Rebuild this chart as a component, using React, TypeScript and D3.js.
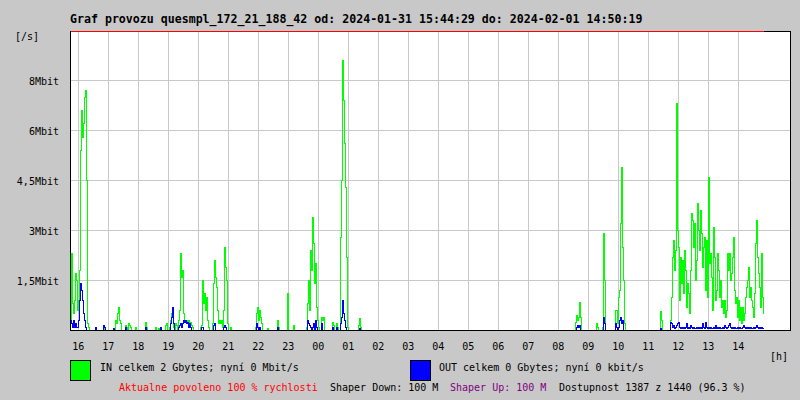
import * as d3 from "d3";

// Traffic graph (MRTG-like): one sample per 2 minutes, one pixel per sample.
const startTime = new Date(2024, 0, 31, 15, 44, 29);
const sampleCount = 694;
const stepMinutes = 2;

// Bursts of non-zero samples: [first sample index, values in Mbit/s]
const inBursts: [number, number[]][] = [
  [0, [0.3, 2.3, 0.8, 0.5, 0.9, 1.7, 1.5, 0.6, 0.9, 1.8, 5.4, 6.6, 5.8, 6.2, 7.0, 7.2, 4.5, 0.2, 0.1]],
  [25, [0.05]],
  [33, [0.1]],
  [43, [0.05, 0, 0.3, 0.2, 0.5, 0.7, 0.3, 0.2]],
  [55, [0.15, 0.1, 0, 0.2, 0.15, 0.1]],
  [65, [0.1]],
  [75, [0.25, 0.1]],
  [85, [0.1]],
  [88, [0.05]],
  [95, [0.15, 0.2, 0, 0, 0.1]],
  [100, [0.3, 0.5, 0.4, 0.1, 0, 0.2, 0.15, 0, 0.3, 0.6, 2.3, 1.6, 1.8, 0.5, 0.3, 0.25, 0.3, 0.2, 0.3, 0.2, 0.25, 0.15, 0.1]],
  [130, [0.1, 0.15, 1.5, 0.8, 1.1, 0.6, 1.0, 0.3, 0.1]],
  [142, [0.2, 1.4, 2.1, 1.6, 1.3, 0.6, 0.2, 0.3, 0.2, 0.3, 0.1, 0.6, 2.5, 1.9, 1.5, 0.2]],
  [160, [0.1]],
  [185, [0.1, 0.5, 0.7, 0.3, 0.6, 0.4, 0.2]],
  [197, [0.05]],
  [207, [0.3, 0.1]],
  [217, [1.1]],
  [223, [0.15]],
  [236, [0.1, 0.8, 1.5, 0.6, 2.4, 1.8, 3.4, 2.6, 1.4, 2.0, 0.7, 0.3, 0.1]],
  [251, [0.4, 0.3, 0.4]],
  [262, [0.25, 0.15, 0, 0, 0.2, 0.1, 0, 0, 2.8, 4.5, 8.1, 6.9, 5.6, 4.3, 2.2, 0.1]],
  [288, [0.15, 0.35, 0.1]],
  [505, [0.25, 0.45, 0.3, 0.4, 0.85, 0.4]],
  [526, [0.2, 0.1]],
  [532, [0.1, 2.9, 1.5]],
  [545, [0.6, 0.6, 0.2, 1.0, 1.2, 3.2, 4.9, 2.5, 1.5, 0.2]],
  [590, [0.57, 0.3]],
  [600, [
    0.3, 1.0, 2.2, 2.7, 1.8, 2.4, 6.8, 3.0, 2.5, 0.9,
    2.2, 1.4, 2.1, 1.1, 2.4, 1.8, 0.7, 1.4, 1.1, 0.5,
    1.8, 3.5, 3.3, 2.5, 3.2, 1.5, 2.1, 3.8, 3.0, 2.4,
    3.6, 2.9, 1.9, 2.5, 2.8, 1.2, 2.7, 1.0, 4.6, 2.0,
    2.3, 1.6, 0.6, 3.1, 2.2, 0.9, 1.2, 2.3, 1.8, 1.0,
    1.5, 0.7, 0.9, 0.5, 0.9, 0.4, 0.6, 2.3, 1.8, 2.3,
    1.5, 1.7, 2.2, 2.8, 1.2, 0.8, 1.0, 0.4, 0.9, 0.3,
    0.7, 0.2, 0.7, 0.3, 0.5, 1.0, 1.3, 1.5, 1.9, 1.0,
    1.3, 0.9, 0.7, 0.4, 1.1, 2.6, 3.3, 2.2, 1.7, 1.3,
    0.7, 2.3, 1.0, 0.5,
  ]],
];

const outBursts: [number, number[]][] = [
  [0, [0.3, 0.2, 0.1, 0.3, 0.1, 0.2, 0.1, 0.1, 0.3, 0.9, 1.4, 1.2, 0.9, 0.5, 0.3, 0.1]],
  [25, [0.1]],
  [33, [0.15, 0.1]],
  [43, [0.05]],
  [55, [0.1]],
  [75, [0.1]],
  [90, [0.1]],
  [100, [0.2, 0.4, 0.7, 0.2, 0, 0, 0, 0, 0.1, 0.15, 0.2, 0.1, 0.2, 0.3, 0.25, 0.3, 0.2, 0.25, 0.1, 0.2, 0.1]],
  [131, [0.1, 0.1]],
  [143, [0.15, 0.2]],
  [153, [0.1, 0.15, 0.1]],
  [186, [0.2, 0.1, 0, 0.1]],
  [207, [0.1]],
  [237, [0.3, 0.2, 0.15, 0.1, 0, 0.1, 0.2, 0, 0.3, 0.1]],
  [251, [0.2]],
  [262, [0.1, 0, 0, 0, 0.1, 0, 0, 0, 0.2, 0.4, 0.9, 0.5, 0.3, 0.1]],
  [289, [0.05]],
  [506, [0.1, 0.15, 0.1, 0.15]],
  [533, [0.4, 0.2]],
  [545, [0.2, 0.1, 0, 0.1, 0.3, 0.4, 0.2, 0.3]],
  [590, [0.05]],
  [600, [
    0.25, 0.2, 0.1, 0.15, 0.05, 0.1, 0.15, 0.2, 0.25, 0.1,
    0.05, 0.1, 0.05, 0.1, 0.05, 0.1, 0.2, 0.05, 0.1, 0.05,
    0.15, 0.1, 0.05, 0.1, 0.05, 0.05, 0.1, 0.05, 0.1, 0.05,
    0.1, 0.05, 0.2, 0.1, 0.05, 0.25, 0.1, 0.05, 0.1, 0.05,
    0.1, 0.05, 0.05, 0.1, 0.05, 0.15, 0.05, 0.1, 0.05, 0.1,
    0.05, 0.05, 0.1, 0.05, 0.15, 0.1, 0.05, 0.1, 0.15, 0.2,
    0.1, 0.05, 0.1, 0.05, 0.1, 0.05, 0.05, 0.1, 0.05, 0.1,
    0.05, 0.05, 0.1, 0.15, 0.1, 0.05, 0.1, 0.05, 0.1, 0.05,
    0.1, 0.05, 0.05, 0.1, 0.05, 0.1, 0.15, 0.1, 0.05, 0.1,
    0.05, 0.1, 0.05, 0.1,
  ]],
];

const yTicks = [1.5, 3, 4.5, 6, 7.5];
const yTickLabels = ["1,5Mbit", "3Mbit", "4,5Mbit", "6Mbit", "8Mbit"];

const FONT = "'DejaVu Sans Mono', 'Liberation Mono', monospace";
const BG = "#c8c8c8";
const GRID = "#c8c8c8";

function expand(bursts: [number, number[]][]): number[] {
  const out = new Array(sampleCount).fill(0);
  for (const [at, vals] of bursts) {
    vals.forEach((v, k) => {
      if (at + k < sampleCount) out[at + k] = v;
    });
  }
  return out;
}

const inSeries = expand(inBursts);
const outSeries = expand(outBursts);
const times = inSeries.map((_, i) => d3.timeMinute.offset(startTime, i * stepMinutes));
const endTime = times[times.length - 1];

const L = 70;
const R = 790;
const TOP = 31;
const BOTTOM = 330;

const x = d3.scaleTime().domain([startTime, d3.timeHour.offset(startTime, 24)]).range([L, R]);
const y = d3.scaleLinear().domain([0, 9]).range([BOTTOM, BOTTOM - 300]);

const px = (v: number) => Math.round(v) + 0.5;

const line = d3
  .line<number>()
  .x((_, i) => px(x(times[i])))
  .y((v) => px(y(v)))
  .curve(d3.curveStepAfter);

const hours = d3.timeHour.range(startTime, endTime);
const fmtHour = d3.timeFormat("%H");

export default function App() {
  return (
    <svg
      width={800}
      height={400}
      viewBox="0 0 800 400"
      style={{ position: "absolute", left: 0, top: 0, display: "block" }}
      fontFamily={FONT}
    >
      <rect width={800} height={400} fill={BG} />
      <rect x={L} y={TOP} width={R - L} height={BOTTOM - TOP} fill="#fff" />

      {/* grid */}
      <g stroke={GRID} strokeWidth={1} shapeRendering="crispEdges">
        {hours.map((h) => (
          <line key={+h} x1={px(x(h))} x2={px(x(h))} y1={TOP} y2={BOTTOM} />
        ))}
        {yTicks.map((t) => (
          <line key={t} x1={L} x2={R} y1={px(y(t))} y2={px(y(t))} />
        ))}
      </g>

      {/* series */}
      <path d={line(inSeries) ?? ""} fill="none" stroke="#00ff00" strokeWidth={1} shapeRendering="crispEdges" />
      <path d={line(outSeries) ?? ""} fill="none" stroke="#0000ff" strokeWidth={1} shapeRendering="crispEdges" />

      {/* frame */}
      <g shapeRendering="crispEdges" strokeWidth={1}>
        <line x1={L} x2={R + 1} y1={TOP + 0.5} y2={TOP + 0.5} stroke="#000" />
        <line x1={L} x2={px(x(endTime))} y1={TOP + 0.5} y2={TOP + 0.5} stroke="#ff0000" />
        <line x1={L + 0.5} x2={L + 0.5} y1={TOP} y2={BOTTOM + 1} stroke="#000" />
        <line x1={R + 0.5} x2={R + 0.5} y1={TOP} y2={BOTTOM + 1} stroke="#000" />
        <line x1={L} x2={R + 1} y1={BOTTOM + 0.5} y2={BOTTOM + 0.5} stroke="#000" />
      </g>

      {/* title */}
      <text x={70} y={23} fontSize={11.6} fontWeight="bold" fill="#000">
        Graf provozu quesmpl_172_21_188_42 od: 2024-01-31 15:44:29 do: 2024-02-01 14:50:19
      </text>

      {/* y labels */}
      <text x={15} y={40} fontSize={10} fill="#000">[/s]</text>
      {yTicks.map((t, i) => (
        <text key={t} x={59} y={y(t) + 5} fontSize={10} textAnchor="end" fill="#000">
          {yTickLabels[i]}
        </text>
      ))}

      {/* x labels */}
      {hours.map((h) => (
        <text key={+h} x={x(h) + 0.5} y={350} fontSize={10} textAnchor="middle" fill="#000">
          {fmtHour(h)}
        </text>
      ))}
      <text x={770} y={360} fontSize={10} fill="#000">[h]</text>

      {/* legend */}
      <rect x={70.5} y={360.5} width={20} height={20} fill="#00ff00" stroke="#000" shapeRendering="crispEdges" />
      <text x={100} y={371} fontSize={10} fill="#000">IN celkem 2 Gbytes; nyní 0 Mbit/s</text>
      <rect x={410.5} y={360.5} width={20} height={20} fill="#0000ff" stroke="#000" shapeRendering="crispEdges" />
      <text x={439} y={371} fontSize={10} fill="#000">OUT celkem 0 Gbytes; nyní 0 kbit/s</text>

      <text x={119} y={391} fontSize={10} fill="#ff0000">Aktualne povoleno 100 % rychlosti</text>
      <text x={330} y={391} fontSize={10} fill="#000">Shaper Down: 100 M</text>
      <text x={450} y={391} fontSize={10} fill="#800080">Shaper Up: 100 M</text>
      <text x={559} y={391} fontSize={10} fill="#000">Dostupnost 1387 z 1440 (96.3 %)</text>
    </svg>
  );
}
